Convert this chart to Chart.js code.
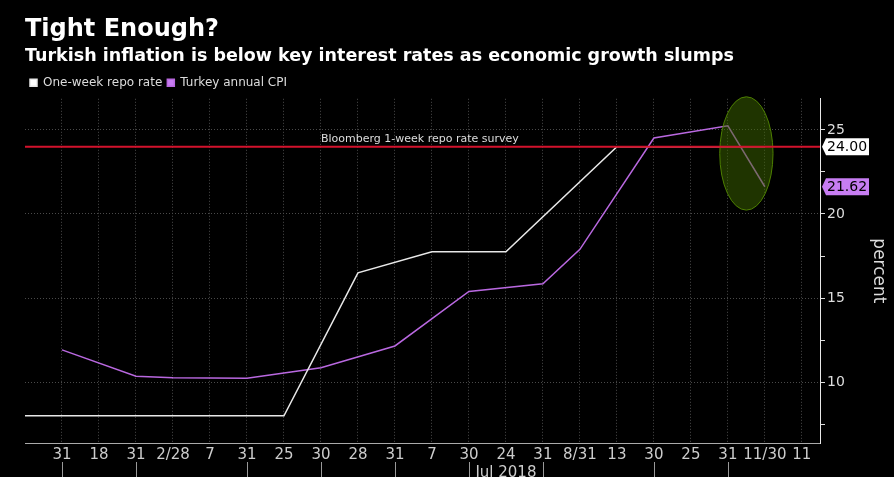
<!DOCTYPE html>
<html>
<head>
  <script src="https://cdn.jsdelivr.net/npm/chart.js@4.4.0/dist/chart.umd.min.js"></script>
  <style>
    html, body { margin: 0; padding: 0; background: #000; }
    #wrap { width: 894px; height: 477px; position: relative; }
  </style>
  <script>
    // x positions are indices into xLabels (-1 = the date before the first label)
    var xLabels = ['31', '18', '31', '2/28', '7', '31', '25', '30', '28', '31', '7',
                   '30', '24', '31', '8/31', '13', '30', '25', '31', '11/30', '11'];

    var repoX = [-1, 6, 8, 10, 12, 15, 19];
    var repoRate = [8, 8, 16.5, 17.75, 17.75, 24, 24];

    var cpiX = [0, 2, 3, 5, 7, 9, 11, 13, 14, 16, 18, 19];
    var cpiRate = [11.92, 10.35, 10.26, 10.23, 10.85, 12.15, 15.39, 15.85, 17.9, 24.52, 25.24, 21.62];

    var surveyRate = 24;
    var surveyLabel = 'Bloomberg 1-week repo rate survey';

    var yTicks = [7.5, 10, 12.5, 15, 17.5, 20, 22.5, 25];
    var periodMarks = [0, 2, 5, 7, 9, 11, 13, 16, 18];
    var periodText = 'Jul 2018';
    var periodAt = 12;

    var FONT = '"DejaVu Sans", sans-serif';

    function toPoints(xs, ys) {
      return xs.map(function (x, i) { return { x: x, y: ys[i] }; });
    }

    function drawTag(ctx, left, y, text, bg) {
      var h = 17, tip = 4, w = 43;
      ctx.beginPath();
      ctx.moveTo(left + 2, y);
      ctx.lineTo(left + 2 + tip, y - h / 2);
      ctx.lineTo(left + 2 + tip + w, y - h / 2);
      ctx.lineTo(left + 2 + tip + w, y + h / 2);
      ctx.lineTo(left + 2 + tip, y + h / 2);
      ctx.closePath();
      ctx.fillStyle = bg;
      ctx.fill();
      ctx.fillStyle = '#000';
      ctx.font = '14px ' + FONT;
      ctx.textAlign = 'left';
      ctx.textBaseline = 'middle';
      ctx.fillText(text, left + 2 + tip + 1, y + 1);
    }

    var overlays = {
      id: 'overlays',
      beforeDraw: function (chart) {
        var ctx = chart.ctx;
        ctx.save();
        ctx.fillStyle = '#000';
        ctx.fillRect(0, 0, chart.width, chart.height);
        ctx.restore();
      },
      afterDatasetsDraw: function (chart) {
        var ctx = chart.ctx, a = chart.chartArea, x = chart.scales.x, y = chart.scales.y;
        ctx.save();
        // highlight round the latest CPI drop
        var cx = x.getPixelForValue(18.5), cy = y.getPixelForValue(23.6);
        var rx = x.getPixelForValue(19.22) - cx, ry = y.getPixelForValue(20.23) - cy;
        ctx.beginPath();
        ctx.ellipse(cx, cy, Math.abs(rx), Math.abs(ry), 0, 0, Math.PI * 2);
        ctx.fillStyle = 'rgba(62,104,0,0.5)';
        ctx.fill();
        ctx.strokeStyle = '#4d7f00';
        ctx.lineWidth = 1;
        ctx.stroke();
        // survey line
        var sy = y.getPixelForValue(surveyRate);
        ctx.beginPath();
        ctx.moveTo(a.left, sy);
        ctx.lineTo(a.right, sy);
        ctx.strokeStyle = '#d3122c';
        ctx.lineWidth = 2;
        ctx.stroke();
        ctx.font = '11px ' + FONT;
        ctx.fillStyle = '#ddd';
        ctx.textAlign = 'left';
        ctx.textBaseline = 'bottom';
        ctx.fillText(surveyLabel, x.getPixelForValue(7), sy - 2);
        ctx.restore();
      },
      afterDraw: function (chart) {
        var ctx = chart.ctx, a = chart.chartArea, x = chart.scales.x, y = chart.scales.y;
        ctx.save();
        drawTag(ctx, a.right, y.getPixelForValue(repoRate[repoRate.length - 1]),
                repoRate[repoRate.length - 1].toFixed(2), '#fff');
        drawTag(ctx, a.right, y.getPixelForValue(cpiRate[cpiRate.length - 1]),
                cpiRate[cpiRate.length - 1].toFixed(2), '#c77df2');
        // period separators under the date labels
        ctx.strokeStyle = '#999';
        ctx.lineWidth = 1;
        periodMarks.forEach(function (i) {
          var px = Math.round(x.getPixelForValue(i)) + 0.5;
          ctx.beginPath();
          ctx.moveTo(px, a.bottom + 19);
          ctx.lineTo(px, chart.height);
          ctx.stroke();
        });
        ctx.font = '15px ' + FONT;
        ctx.fillStyle = '#ccc';
        ctx.textAlign = 'center';
        ctx.textBaseline = 'middle';
        ctx.fillText(periodText, x.getPixelForValue(periodAt), a.bottom + 30);
        ctx.restore();
      }
    };

    function drawGraph(canvasId) {
      var ctx = document.getElementById(canvasId).getContext('2d');
      new Chart(ctx, {
        type: 'line',
        data: {
          datasets: [
            {
              label: 'One-week repo rate',
              data: toPoints(repoX, repoRate),
              borderColor: '#e8e8e8',
              backgroundColor: '#fff',
              borderWidth: 1.5,
              pointRadius: 0,
              tension: 0
            },
            {
              label: 'Turkey annual CPI',
              data: toPoints(cpiX, cpiRate),
              borderColor: '#b968e0',
              backgroundColor: '#c77df2',
              borderWidth: 1.5,
              pointRadius: 0,
              tension: 0
            }
          ]
        },
        options: {
          responsive: true,
          maintainAspectRatio: false,
          animation: false,
          layout: { padding: { left: 25, right: 0, top: 6, bottom: 0 } },
          plugins: {
            title: {
              display: true,
              text: 'Tight Enough?',
              align: 'start',
              color: '#fff',
              font: { family: FONT, size: 24, weight: 'bold' },
              padding: { top: 9, bottom: 0 }
            },
            subtitle: {
              display: true,
              text: 'Turkish inflation is below key interest rates as economic growth slumps',
              align: 'start',
              color: '#fff',
              font: { family: FONT, size: 17.5, weight: 'bold' },
              padding: { top: 2, bottom: 5 }
            },
            legend: {
              display: true,
              align: 'start',
              labels: {
                color: '#ddd',
                boxWidth: 7,
                boxHeight: 7,
                padding: 5,
                font: { family: FONT, size: 12 }
              }
            },
            tooltip: { enabled: false }
          },
          scales: {
            x: {
              type: 'linear',
              min: -1,
              max: 20.49,
              afterBuildTicks: function (axis) {
                axis.ticks = xLabels.map(function (l, i) { return { value: i }; });
              },
              afterFit: function (axis) { axis.height = 34; },
              ticks: {
                autoSkip: false,
                maxRotation: 0,
                padding: 3,
                color: '#ccc',
                font: { family: FONT, size: 15 },
                callback: function (v) { return xLabels[v]; }
              },
              grid: { color: '#4a4a4a', drawTicks: false },
              border: { color: '#aaa', width: 1, dash: [1, 2] }
            },
            y: {
              position: 'right',
              min: 6.38,
              max: 26.85,
              afterBuildTicks: function (axis) {
                axis.ticks = yTicks.map(function (v) { return { value: v }; });
              },
              afterFit: function (axis) { axis.width = 74; },
              ticks: {
                padding: 2,
                color: '#ddd',
                font: { family: FONT, size: 14 },
                callback: function (v) { return v % 5 === 0 ? String(v) : ''; }
              },
              grid: {
                color: function (c) { return c.tick && c.tick.value % 5 === 0 ? '#4a4a4a' : 'rgba(0,0,0,0)'; },
                tickColor: '#ddd',
                tickLength: 5
              },
              border: { color: '#e8e8e8', width: 1, dash: [1, 2] },
              title: {
                display: true,
                text: 'percent',
                color: '#ddd',
                font: { family: FONT, size: 17 },
                padding: { top: 5, bottom: 0 }
              }
            }
          }
        },
        plugins: [overlays]
      });
    }

    window.onload = function () {
      drawGraph('turkeyRates');
    };
  </script>
</head>
<body>
  <div id="wrap"><canvas id="turkeyRates"></canvas></div>
</body>
</html>
